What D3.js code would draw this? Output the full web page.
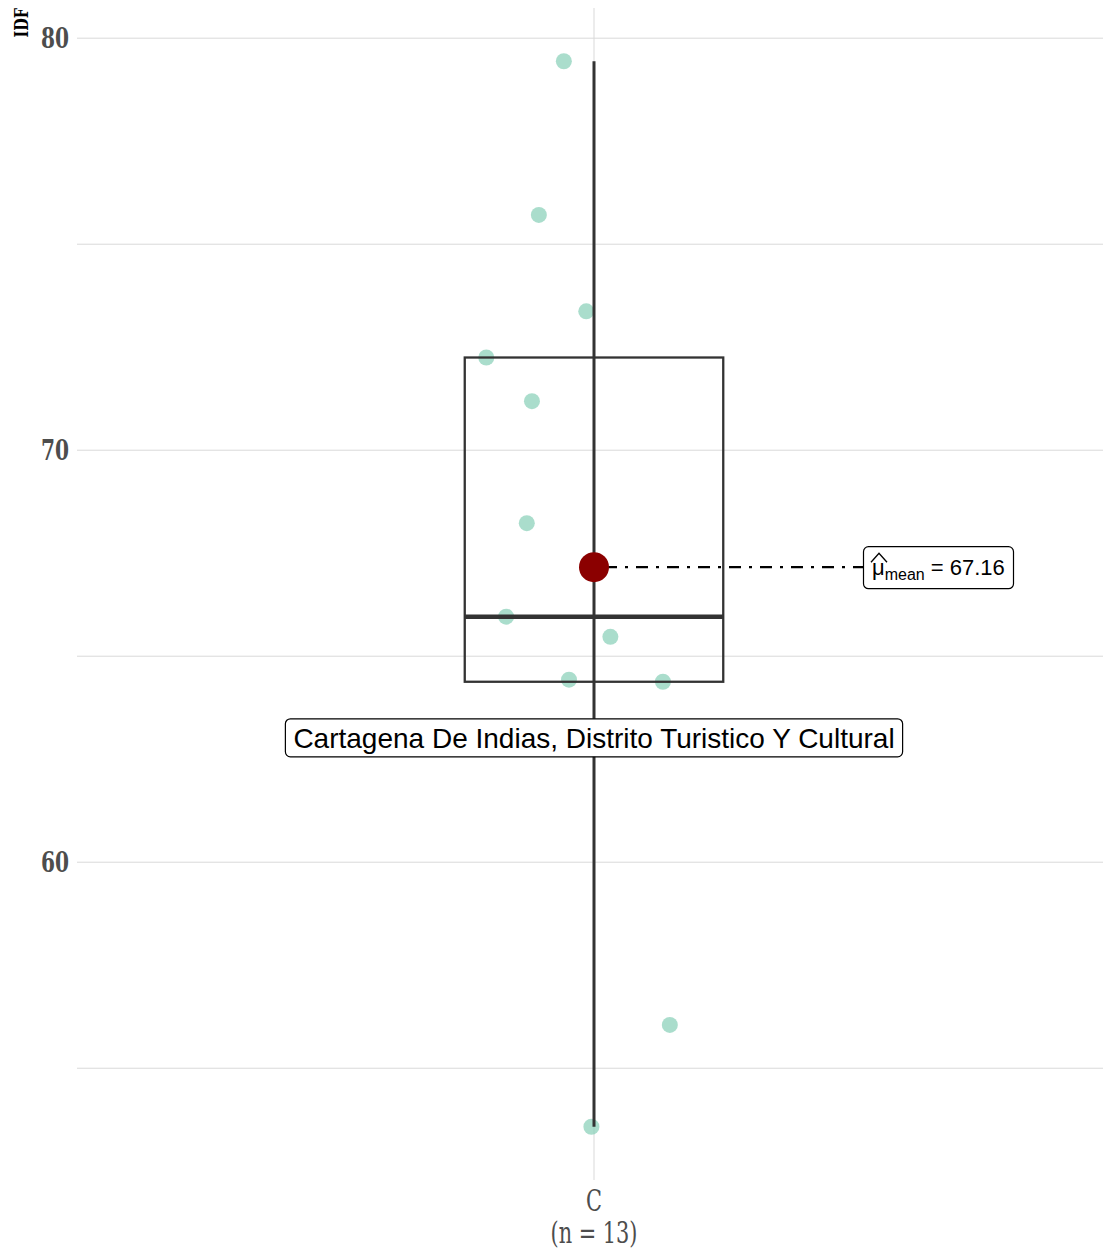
<!DOCTYPE html>
<html>
<head>
<meta charset="utf-8">
<script src="https://cdn.jsdelivr.net/npm/d3@7"></script>
<style>
  body { margin: 0; background: #fff; }
</style>
</head>
<body>
<div class="display"></div>
<script>
const WIDTH = 1103;
const HEIGHT = 1249;
const PANEL = { left: 77, right: 1111, top: 8, bottom: 1180 };

const CATEGORY = 'C';
const N_LABEL = '(n = 13)';
const Y_TITLE = 'IDF';
const Y_TICKS = [60, 70, 80];
const Y_MINOR = [55, 65, 75];

// IDF values
const idfValues = [79.44, 75.71, 73.37, 72.25, 71.19, 68.23, 65.96, 65.47, 64.43, 64.38, 63.02, 56.05, 53.58];
// horizontal jitter (category units)
const jitterValues = [-0.035, -0.064, -0.009, -0.125, -0.072, -0.078, -0.102, 0.019, -0.029, 0.080, 0.0, 0.088, -0.003];

const MEAN_VALUE = 67.16;
const OUTLIER_LABEL = 'Cartagena De Indias, Distrito Turistico Y Cultural';
const OUTLIER_VALUE = 63.02;

const TICK_FONT = '"DejaVu Serif", serif';
const SANS = '"Liberation Sans", Arial, sans-serif';

const svg = d3.select('.display')
  .append('svg')
  .attr('width', WIDTH)
  .attr('height', HEIGHT);

const sorted = idfValues.slice().sort(d3.ascending);
const q1 = d3.quantile(sorted, 0.25);
const med = d3.quantile(sorted, 0.5);
const q3 = d3.quantile(sorted, 0.75);
const iqr = q3 - q1;
const lo = d3.min(sorted.filter(v => v >= q1 - 1.5 * iqr));
const hi = d3.max(sorted.filter(v => v <= q3 + 1.5 * iqr));

const ext = d3.extent(idfValues);
const pad = (ext[1] - ext[0]) * 0.05;
const y = d3.scaleLinear()
  .domain([ext[0] - pad, ext[1] + pad])
  .range([PANEL.bottom, PANEL.top]);

const x = d3.scaleLinear()
  .domain([0.4, 1.6])
  .range([PANEL.left, PANEL.right]);

// condensed serif text: squeeze horizontally around the anchor point
function serifText(px, py, str, size, anchor, weight, fill) {
  return svg.append('text')
    .attr('transform', `translate(${px}, ${py}) scale(0.72, 1)`)
    .attr('text-anchor', anchor)
    .style('font-family', TICK_FONT)
    .style('font-weight', weight)
    .style('font-size', size + 'px')
    .style('fill', fill)
    .text(str);
}

// grid
const grid = svg.append('g');
grid.selectAll('.hgrid')
  .data(Y_TICKS.concat(Y_MINOR))
  .enter()
  .append('line')
  .attr('x1', PANEL.left)
  .attr('x2', WIDTH)
  .attr('y1', d => y(d))
  .attr('y2', d => y(d))
  .attr('stroke', '#d9d9d9')
  .attr('stroke-width', 1);

grid.append('line')
  .attr('x1', x(1))
  .attr('x2', x(1))
  .attr('y1', PANEL.top)
  .attr('y2', PANEL.bottom)
  .attr('stroke', '#d9d9d9')
  .attr('stroke-width', 1);

// y axis tick labels
Y_TICKS.forEach(t => serifText(69, y(t) + 10, t, 28, 'end', 'bold', '#4d4d4d'));

// y title
svg.append('text')
  .attr('transform', `translate(28, 8) rotate(-90) scale(0.8, 1)`)
  .attr('text-anchor', 'end')
  .style('font-family', TICK_FONT)
  .style('font-weight', 'bold')
  .style('font-size', '18px')
  .style('fill', '#000')
  .text(Y_TITLE);

// x tick labels
serifText(x(1), 1211, CATEGORY, 29, 'middle', 'normal', '#4d4d4d');
serifText(x(1), 1243, N_LABEL, 29, 'middle', 'normal', '#4d4d4d');

// jittered points
svg.selectAll('.point')
  .data(idfValues)
  .enter()
  .append('circle')
  .attr('class', 'point')
  .attr('cx', (d, i) => x(1 + jitterValues[i]))
  .attr('cy', d => y(d))
  .attr('r', 8)
  .style('fill', '#8ed1bb')
  .style('opacity', 0.75);

// boxplot
const box = svg.append('g')
  .style('stroke', '#333333')
  .style('fill', 'none');

box.append('line')
  .attr('x1', x(1)).attr('x2', x(1))
  .attr('y1', y(hi)).attr('y2', y(q3))
  .attr('stroke-width', 3);
box.append('line')
  .attr('x1', x(1)).attr('x2', x(1))
  .attr('y1', y(q1)).attr('y2', y(lo))
  .attr('stroke-width', 3);
box.append('rect')
  .attr('x', x(1 - 0.15))
  .attr('y', y(q3))
  .attr('width', x(1.15) - x(0.85))
  .attr('height', y(q1) - y(q3))
  .attr('stroke-width', 2.3);
box.append('line')
  .attr('x1', x(1)).attr('x2', x(1))
  .attr('y1', y(q3)).attr('y2', y(q1))
  .attr('stroke-width', 3);
box.append('line')
  .attr('x1', x(0.85)).attr('x2', x(1.15))
  .attr('y1', y(med)).attr('y2', y(med))
  .attr('stroke-width', 4.5);

// mean
svg.append('line')
  .attr('x1', x(1))
  .attr('x2', 863)
  .attr('y1', y(MEAN_VALUE))
  .attr('y2', y(MEAN_VALUE))
  .attr('stroke', '#000')
  .attr('stroke-width', 2.2)
  .attr('stroke-dasharray', '3,8,12,8');

svg.append('circle')
  .attr('cx', x(1))
  .attr('cy', y(MEAN_VALUE))
  .attr('r', 15)
  .style('fill', '#8b0000');

const meanLabel = svg.append('g')
  .attr('transform', `translate(863, ${y(MEAN_VALUE) - 21})`);
meanLabel.append('rect')
  .attr('x', 0.5).attr('y', 0.5)
  .attr('width', 150).attr('height', 42)
  .attr('rx', 5).attr('ry', 5)
  .attr('fill', '#fff')
  .attr('stroke', '#000')
  .attr('stroke-width', 1.2);
const mt = meanLabel.append('text')
  .attr('x', 9)
  .attr('y', 29)
  .style('font-family', SANS)
  .style('font-size', '22px')
  .style('fill', '#000');
mt.append('tspan').text('\u03bc');
mt.append('tspan').attr('dy', 5).style('font-size', '16px').text('mean');
mt.append('tspan').attr('dy', -5).text(' = 67.16');
meanLabel.append('path')
  .attr('d', 'M8,16 L16,7 L24,16')
  .attr('fill', 'none')
  .attr('stroke', '#000')
  .attr('stroke-width', 1.3);

// outlier label
const lab = svg.append('g');
const labText = lab.append('text')
  .attr('x', x(1))
  .attr('y', y(OUTLIER_VALUE))
  .attr('dy', '0.36em')
  .attr('text-anchor', 'middle')
  .style('font-family', SANS)
  .style('font-size', '28px')
  .style('fill', '#000')
  .text(OUTLIER_LABEL);
const bb = labText.node().getBBox();
lab.insert('rect', 'text')
  .attr('x', bb.x - 8)
  .attr('y', y(OUTLIER_VALUE) - 19)
  .attr('width', bb.width + 16)
  .attr('height', 38)
  .attr('rx', 5).attr('ry', 5)
  .attr('fill', '#fff')
  .attr('stroke', '#000')
  .attr('stroke-width', 1.2);
</script>
</body>
</html>
